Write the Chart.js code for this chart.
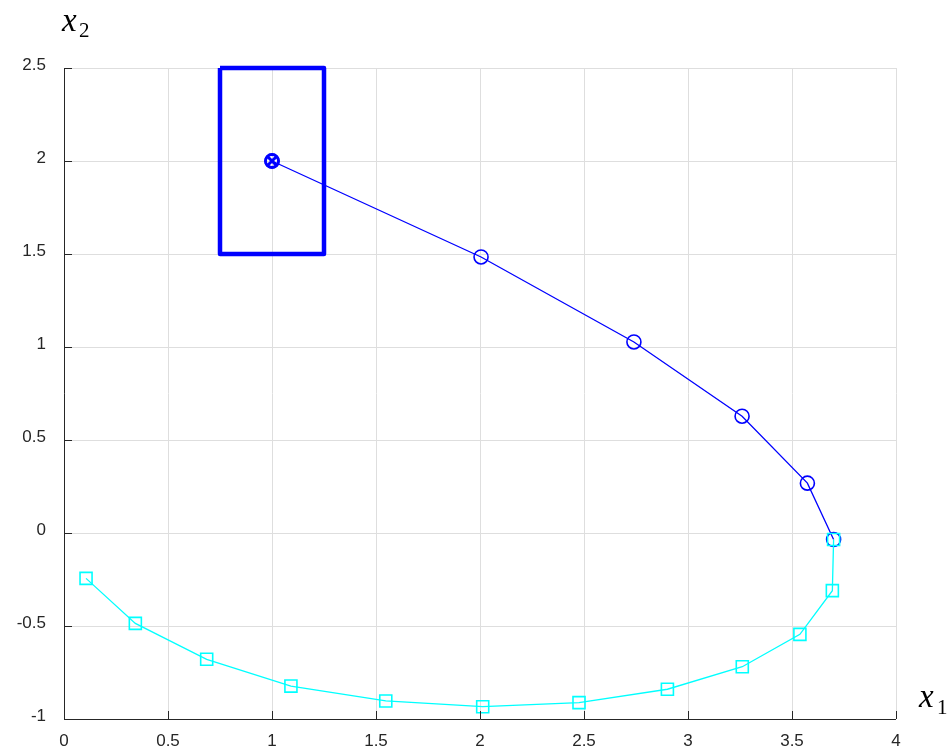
<!DOCTYPE html>
<html>
<head>
<meta charset="utf-8">
<script src="https://cdn.jsdelivr.net/npm/chart.js@4/dist/chart.umd.min.js"></script>
<style>
  html, body { margin: 0; padding: 0; background: #ffffff; }
  #wrap { width: 950px; height: 749px; }
</style>
</head>
<body>
<div id="wrap"><canvas id="c" width="950" height="749"></canvas></div>
<script>
// Trajectory in the (x1, x2) plane: forward branch (blue) and return branch (cyan)
const blueX = [1.0, 2.005, 2.74, 3.26, 3.574, 3.70];
const blueY = [2.0, 1.484, 1.027, 0.628, 0.268, -0.035];
const cyanX = [3.70, 3.694, 3.538, 3.261, 2.901, 2.476, 2.013, 1.547, 1.091, 0.686, 0.343, 0.106];
const cyanY = [-0.035, -0.31, -0.545, -0.719, -0.84, -0.912, -0.934, -0.903, -0.823, -0.679, -0.486, -0.244];
// Starting point and the bounding box around it
const startX = [1.0];
const startY = [2.0];
const boxX = [0.75, 1.25, 1.25, 0.75, 0.75];
const boxY = [2.5, 2.5, 1.5, 1.5, 2.5];
// Axis ranges and tick values
const xTicks = [0, 0.5, 1, 1.5, 2, 2.5, 3, 3.5, 4];
const yTicks = [-1, -0.5, 0, 0.5, 1, 1.5, 2, 2.5];

const pts = (xs, ys) => xs.map((x, i) => ({ x: x, y: ys[i] }));

const BLUE = '#0000ff';
const CYAN = '#00ffff';
const AXIS = '#262626';
const TICK_FONT = { family: '"Liberation Sans", Arial, sans-serif', size: 17 };

const axesPlugin = {
  id: 'axesPlugin',
  afterDraw(chart) {
    const ctx = chart.ctx;
    const a = chart.chartArea;
    const xs = chart.scales.x, ys = chart.scales.y;
    ctx.save();
    ctx.strokeStyle = AXIS;
    ctx.lineWidth = 1;
    ctx.beginPath();
    ctx.moveTo(a.left + 0.5, a.top);
    ctx.lineTo(a.left + 0.5, a.bottom + 0.5);
    ctx.lineTo(a.right, a.bottom + 0.5);
    ctx.stroke();
    // inward tick marks
    ctx.beginPath();
    xTicks.forEach(v => {
      const px = Math.round(xs.getPixelForValue(v)) + 0.5;
      ctx.moveTo(px, a.bottom);
      ctx.lineTo(px, a.bottom - 8);
    });
    yTicks.forEach(v => {
      const py = Math.round(ys.getPixelForValue(v)) + 0.5;
      ctx.moveTo(a.left, py);
      ctx.lineTo(a.left + 8, py);
    });
    ctx.stroke();
    // axis names
    ctx.fillStyle = '#000000';
    ctx.textBaseline = 'alphabetic';
    ctx.textAlign = 'left';
    ctx.font = 'italic 33px "Liberation Serif", "DejaVu Serif", serif';
    ctx.fillText('x', 62, 31);
    ctx.fillText('x', 919, 707);
    ctx.font = '21px "Liberation Serif", "DejaVu Serif", serif';
    ctx.fillText('2', 79, 37);
    ctx.fillText('1', 937, 714);
    ctx.restore();
  }
};

new Chart(document.getElementById('c'), {
  type: 'scatter',
  data: {
    datasets: [
      {
        label: 'box',
        data: pts(boxX, boxY),
        showLine: true,
        borderColor: BLUE,
        borderWidth: 4.5,
        pointRadius: 0,
        fill: false,
        clip: false,
        borderJoinStyle: 'round',
        order: 0
      },
      {
        label: 'start',
        data: pts(startX, startY),
        showLine: false,
        pointStyle: 'crossRot',
        pointRadius: 7.5,
        borderColor: BLUE,
        pointBorderWidth: 3,
        order: 0
      },
      {
        label: 'start ring',
        data: pts(startX, startY),
        showLine: false,
        pointStyle: 'circle',
        pointRadius: 6.5,
        pointBackgroundColor: 'rgba(0,0,0,0)',
        pointBorderColor: BLUE,
        pointBorderWidth: 2.8,
        order: 0
      },
      {
        label: 'return',
        data: pts(cyanX, cyanY),
        showLine: true,
        borderColor: CYAN,
        borderWidth: 1.3,
        pointStyle: 'rect',
        pointRadius: 8.5,
        pointBorderWidth: 1.6,
        pointBackgroundColor: 'rgba(0,0,0,0)',
        pointBorderColor: CYAN,
        order: 1
      },
      {
        label: 'forward',
        data: pts(blueX, blueY),
        showLine: true,
        borderColor: BLUE,
        borderWidth: 1.3,
        pointStyle: 'circle',
        pointRadius: 7,
        pointBorderWidth: 1.6,
        pointBackgroundColor: 'rgba(0,0,0,0)',
        pointBorderColor: BLUE,
        order: 2
      }
    ]
  },
  options: {
    responsive: false,
    animation: false,
    layout: { padding: { top: 68, right: 54, left: 0, bottom: 0 } },
    plugins: {
      legend: { display: false },
      tooltip: { enabled: false }
    },
    scales: {
      x: {
        type: 'linear',
        min: 0, max: 4,
        afterFit(s) { s.height = 30; },
        afterBuildTicks(s) { s.ticks = xTicks.map(v => ({ value: v })); },
        border: { display: false },
        grid: { color: '#dedede', lineWidth: 1, drawTicks: false, tickLength: 0 },
        ticks: {
          padding: 12,
          color: AXIS,
          font: TICK_FONT,
          maxRotation: 0,
          callback: v => String(v)
        }
      },
      y: {
        type: 'linear',
        min: -1, max: 2.5,
        afterFit(s) { s.width = 64; },
        afterBuildTicks(s) { s.ticks = yTicks.map(v => ({ value: v })); },
        border: { display: false },
        grid: { color: '#dedede', lineWidth: 1, drawTicks: false, tickLength: 0 },
        ticks: {
          padding: 18,
          labelOffset: -3,
          color: AXIS,
          font: TICK_FONT,
          callback: v => String(v)
        }
      }
    }
  },
  plugins: [axesPlugin]
});
</script>
</body>
</html>
